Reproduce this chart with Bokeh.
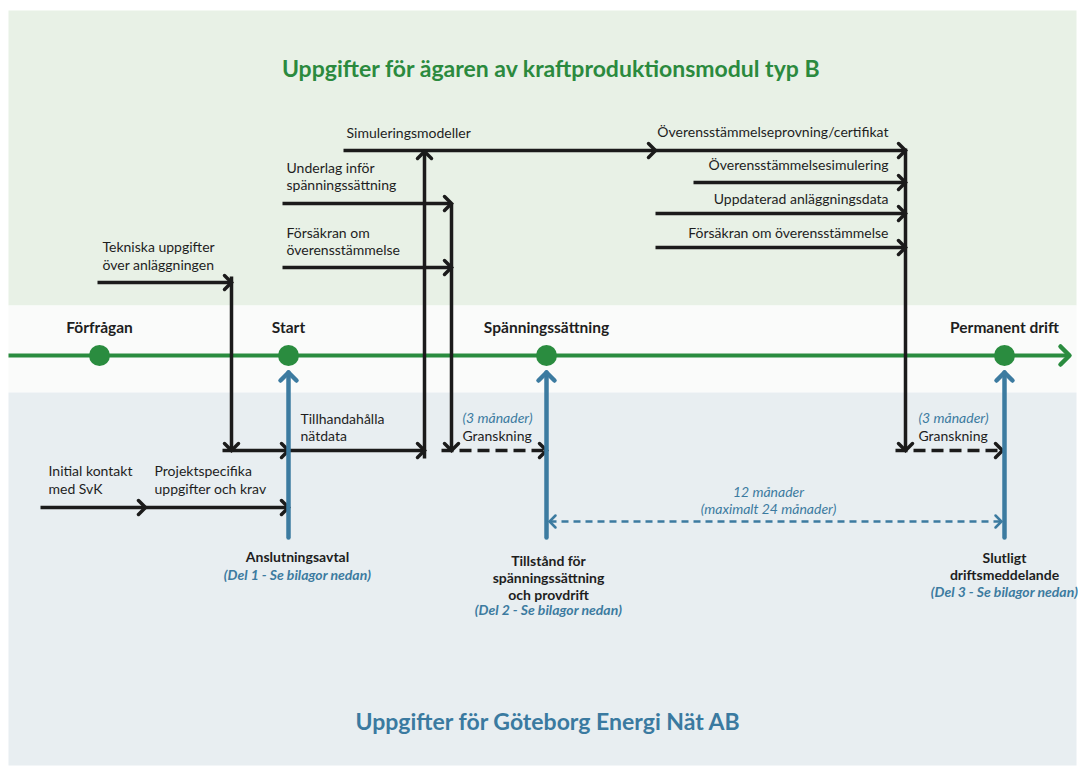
import math
from bokeh.plotting import figure
from bokeh.models import Range1d, ColumnDataSource
from bokeh.core.properties import value
from bokeh.embed import file_html
from bokeh.resources import INLINE

FONT = "Lato"

# ---------------- data ----------------
# background bands (image pixel coordinates, y grows downward)
band_left = [8, 8, 8]
band_right = [1076, 1076, 1076]
band_top = [10, 305, 392]
band_bottom = [305, 392, 765]
band_color = ["#e8f1e6", "#fafbfa", "#e8eef1"]

# timeline
timeline_y = 355
timeline_x0 = 8
timeline_x1 = 1069
milestone_x = [99, 288, 546, 1004]
milestone_labels = ["Förfrågan", "Start", "Spänningssättning", "Permanent drift"]
milestone_label_y = 326

# black solid arrows (start -> end, head at end)
blk_x0 = [97, 231, 222, 288, 424, 343, 655, 282, 451, 282, 693, 655, 655, 905, 40, 145]
blk_y0 = [282, 276, 450, 450, 458, 150, 150, 203, 203, 267, 182, 213, 247, 148, 507, 507]
blk_x1 = [231, 231, 288, 424, 424, 655, 905, 451, 451, 451, 905, 905, 905, 905, 145, 288]
blk_y1 = [282, 450, 450, 450, 151, 150, 150, 203, 450, 267, 182, 213, 247, 450, 507, 507]

# black dashed review arrows
rev_x0 = [441, 895]
rev_x1 = [546, 1002]
rev_y = [450, 450]

# blue decision arrows (up to timeline)
blue_x = [288, 546, 1004]
blue_y0 = [537, 537, 537]
blue_y1 = [372, 372, 372]

# blue dashed duration arrow
dur_x0 = 549
dur_x1 = 1001
dur_y = 521

# texts: black regular
txt_x = [102, 102, 346, 286, 286, 286, 286, 888, 888, 888, 888, 300, 300, 462, 918, 48, 48, 154, 154]
txt_y = [246, 264, 132, 167, 184, 232, 249, 131, 164, 198, 232, 418, 435, 435, 435, 470, 488, 470, 488]
txt_align = ["left", "left", "left", "left", "left", "left", "left", "right", "right", "right", "right",
             "left", "left", "left", "left", "left", "left", "left", "left"]
txt_label = ["Tekniska uppgifter", "över anläggningen", "Simuleringsmodeller",
             "Underlag inför", "spänningssättning", "Försäkran om", "överensstämmelse",
             "Överensstämmelseprovning/certifikat", "Överensstämmelsesimulering",
             "Uppdaterad anläggningsdata", "Försäkran om överensstämmelse",
             "Tillhandahålla", "nätdata", "Granskning", "Granskning",
             "Initial kontakt", "med SvK", "Projektspecifika", "uppgifter och krav"]

# blue italic notes
note_x = [462, 918, 768, 768]
note_y = [417, 417, 491, 508]
note_align = ["left", "left", "center", "center"]
note_label = ["(3 månader)", "(3 månader)", "12 månader", "(maximalt 24 månader)"]

# decision labels (bold dark)
dec_x = [297, 548, 548, 548, 1004, 1004]
dec_y = [556, 560, 577, 594, 557, 574]
dec_label = ["Anslutningsavtal", "Tillstånd för", "spänningssättning", "och provdrift",
             "Slutligt", "driftsmeddelande"]

# attachment references (bold italic blue)
ref_x = [297, 548, 1004]
ref_y = [574, 609, 591]
ref_label = ["(Del 1 - Se bilagor nedan)", "(Del 2 - Se bilagor nedan)", "(Del 3 - Se bilagor nedan)"]

# titles
title_x = [551, 548]
title_y = [67, 720]
title_label = ["Uppgifter för ägaren av kraftproduktionsmodul typ B", "Uppgifter för Göteborg Energi Nät AB"]
title_color = ["#2b8a3e", "#3a7aa0"]

GREEN = "#2a8c3f"
BLUE = "#3c7ba0"
BLACK = "#1b1b1b"
DARK = "#1e1e1e"


def chevrons(x0s, y0s, x1s, y1s, arm):
    """Open 90-degree arrow heads at (x1, y1), pointing away from (x0, y0)."""
    xs, ys = [], []
    for x0, y0, x1, y1 in zip(x0s, y0s, x1s, y1s):
        dx, dy = x1 - x0, y1 - y0
        n = math.hypot(dx, dy)
        ux, uy = dx / n, dy / n
        px, py = -uy, ux
        xs.append([x1 - arm * ux + arm * px, x1, x1 - arm * ux - arm * px])
        ys.append([y1 - arm * uy + arm * py, y1, y1 - arm * uy - arm * py])
    return xs, ys


# ---------------- figure ----------------
p = figure(width=1078, height=767, x_range=Range1d(0, 1078), y_range=Range1d(767, 0),
           output_backend="svg", toolbar_location=None, min_border=0)
p.axis.visible = False
p.grid.visible = False
p.outline_line_color = None
p.background_fill_color = "white"
p.border_fill_color = "white"

p.quad(left=band_left, right=band_right, top=band_top, bottom=band_bottom,
       fill_color=band_color, line_color=None)

# timeline
p.segment(x0=[timeline_x0], y0=[timeline_y], x1=[timeline_x1 - 2], y1=[timeline_y],
          line_width=4, line_color=GREEN)
hx, hy = chevrons([timeline_x0], [timeline_y], [timeline_x1], [timeline_y], 9)
p.multi_line(xs=hx, ys=hy, line_width=4.5, line_color=GREEN, line_cap="round", line_join="round")

# black solid arrows
p.segment(x0=blk_x0, y0=blk_y0, x1=blk_x1, y1=blk_y1, line_width=3.5, line_color=BLACK, line_cap="butt")
hx, hy = chevrons(blk_x0, blk_y0, blk_x1, blk_y1, 7)
p.multi_line(xs=hx, ys=hy, line_width=3.5, line_color=BLACK, line_cap="round", line_join="miter")

# black dashed review arrows
p.segment(x0=rev_x0, y0=rev_y, x1=rev_x1, y1=rev_y, line_width=3.5, line_color=BLACK,
          line_dash="12 6")
hx, hy = chevrons(rev_x0, rev_y, rev_x1, rev_y, 7)
p.multi_line(xs=hx, ys=hy, line_width=3.5, line_color=BLACK, line_cap="round", line_join="miter")

# blue decision arrows
p.segment(x0=blue_x, y0=blue_y0, x1=blue_x, y1=blue_y1, line_width=4.5, line_color=BLUE, line_cap="round")
hx, hy = chevrons(blue_x, blue_y0, blue_x, blue_y1, 8)
p.multi_line(xs=hx, ys=hy, line_width=4.5, line_color=BLUE, line_cap="round", line_join="round")

# blue dashed duration arrow (both ends)
p.segment(x0=[dur_x0], y0=[dur_y], x1=[dur_x1], y1=[dur_y], line_width=2.5, line_color=BLUE,
          line_dash="7 5")
hx, hy = chevrons([dur_x0, dur_x1], [dur_y, dur_y], [dur_x1, dur_x0], [dur_y, dur_y], 6)
p.multi_line(xs=hx, ys=hy, line_width=2.5, line_color=BLUE, line_cap="round", line_join="miter")

# milestones
p.scatter(x=milestone_x, y=[timeline_y] * len(milestone_x), size=21, color=GREEN, line_color=None)
p.text(x=milestone_x, y=[milestone_label_y] * len(milestone_x), text=milestone_labels,
       text_font=value(FONT), text_font_style="bold", text_font_size="15.5px",
       text_color=DARK, text_align="center", text_baseline="middle")

# regular texts
p.text(x="x", y="y", text="t", text_align="a",
       source=ColumnDataSource(dict(x=txt_x, y=txt_y, t=txt_label, a=txt_align)),
       text_font=value(FONT), text_font_size="14px", text_color=DARK, text_baseline="middle")

# blue italic notes
p.text(x="x", y="y", text="t", text_align="a",
       source=ColumnDataSource(dict(x=note_x, y=note_y, t=note_label, a=note_align)),
       text_font=value(FONT), text_font_style="italic", text_font_size="14px",
       text_color=BLUE, text_baseline="middle")

# decision labels
p.text(x=dec_x, y=dec_y, text=dec_label, text_font=value(FONT), text_font_style="bold",
       text_font_size="14px", text_color=DARK, text_align="center", text_baseline="middle")
p.text(x=ref_x, y=ref_y, text=ref_label, text_font=value(FONT), text_font_style="bold italic",
       text_font_size="14px", text_color=BLUE, text_align="center", text_baseline="middle")

# titles
p.text(x=title_x, y=title_y, text=title_label, text_color=title_color, text_font=value(FONT),
       text_font_style="bold", text_font_size="23px", text_align="center", text_baseline="middle")

open("out.html", "w").write(file_html(p, INLINE))
